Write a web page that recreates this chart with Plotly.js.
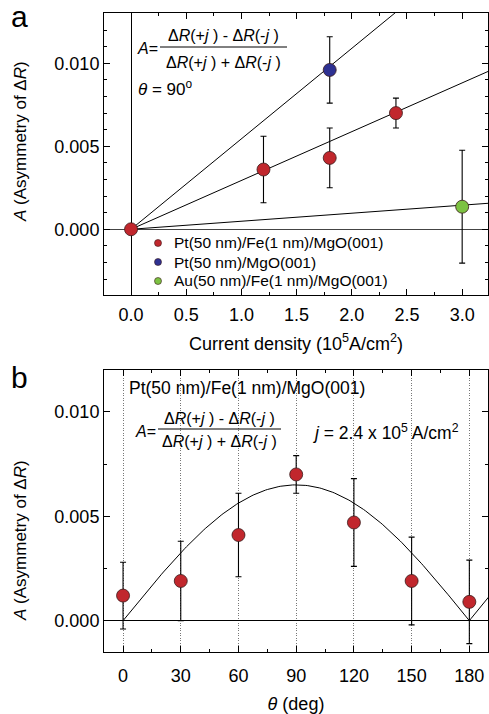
<!DOCTYPE html>
<html><head><meta charset="utf-8">
<script src="https://cdn.plot.ly/plotly-3.0.1.min.js"></script>
<style>html,body{margin:0;padding:0;background:#fff}#chart{width:489px;height:714px}</style>
</head><body><div id="chart"></div>
<script>
// ---- Panel a data ----
const seriesNames = ['Pt(50 nm)/Fe(1 nm)/MgO(001)', 'Pt(50 nm)/MgO(001)', 'Au(50 nm)/Fe(1 nm)/MgO(001)'];
const seriesColors = ['#c1272d', '#2e3192', '#7cc242'];
const ptFeJ = [0, 1.2, 1.8, 2.4];
const ptFeA = [0, 0.0036, 0.0043, 0.0070];
const ptFeErr = [0, 0.0020, 0.0018, 0.0009];
const ptJ = [1.8];
const ptA = [0.0096];
const ptErr = [0.0020];
const auFeJ = [3.0];
const auFeA = [0.00136];
const auFeErr = [0.0034];
const fitSlopes = [0.00294, 0.00545, 0.000484];
const fitJEnds = [0, 3.4];
const xTicksA = [0, 0.5, 1.0, 1.5, 2.0, 2.5, 3.0];
const yTicksA = [0, 0.005, 0.010];
// ---- Panel b data ----
const thetaDeg = [0, 30, 60, 90, 120, 150, 180];
const angA = [0.0012, 0.0019, 0.0041, 0.0070, 0.0047, 0.0019, 0.0009];
const angErr = [0.0016, 0.0019, 0.0020, 0.0009, 0.0021, 0.0021, 0.0020];
const fitAmp = 0.0065;
const xTicksB = [0, 30, 60, 90, 120, 150, 180];
const yTicksB = [0, 0.005, 0.010];

const FONT = 'Liberation Sans, Arial, sans-serif';
const ML = 104, MR = 1, MT = 13, MB = 62, W = 489, H = 714;
const PW = W - ML - MR, PH = H - MT - MB;
const PX = x => (x - ML) / PW;
const PY = y => (H - MB - y) / PH;

const traces = [];
fitSlopes.forEach(s => {
  traces.push({type:'scatter', mode:'lines', x: fitJEnds, y: fitJEnds.map(j => s*j),
    xaxis:'x', yaxis:'y', line:{color:'#000', width:1}, showlegend:false, hoverinfo:'skip'});
});
const errStyle = {type:'data', visible:true, color:'#000', thickness:1.1, width:3};
const mk = c => ({size:13, color:c, line:{color:'#3a1a1a', width:0.8}});
traces.push({type:'scatter', mode:'markers', name:seriesNames[0], x: ptFeJ, y: ptFeA, error_y:Object.assign({array: ptFeErr}, errStyle),
  marker: mk(seriesColors[0]), xaxis:'x', yaxis:'y', showlegend:false});
traces.push({type:'scatter', mode:'markers', name:seriesNames[1], x: ptJ, y: ptA, error_y:Object.assign({array: ptErr}, errStyle),
  marker: mk(seriesColors[1]), xaxis:'x', yaxis:'y', showlegend:false});
traces.push({type:'scatter', mode:'markers', name:seriesNames[2], x: auFeJ, y: auFeA, error_y:Object.assign({array: auFeErr}, errStyle),
  marker: mk(seriesColors[2]), xaxis:'x', yaxis:'y', showlegend:false});
const fitTheta = [];
for (let t = 0; t <= 190; t += 1) fitTheta.push(t);
traces.push({type:'scatter', mode:'lines', x: fitTheta, y: fitTheta.map(t => fitAmp*Math.abs(Math.sin(t*Math.PI/180))),
  xaxis:'x2', yaxis:'y2', line:{color:'#000', width:1}, showlegend:false, hoverinfo:'skip'});
traces.push({type:'scatter', mode:'markers', x: thetaDeg, y: angA, error_y:Object.assign({array: angErr}, errStyle),
  marker: mk(seriesColors[0]), xaxis:'x2', yaxis:'y2', showlegend:false});

const axBase = {showline:true, linecolor:'#000', linewidth:1, mirror:'allticks', ticks:'inside', ticklen:6,
  tickcolor:'#000', tickwidth:1, showgrid:false, zeroline:false, tickfont:{family:FONT, size:18, color:'#000'}};
const ax = o => Object.assign(JSON.parse(JSON.stringify(axBase)), o);

const annFont = {family:FONT, size:16, color:'#000'};
const ann = (text, x, y, xa, extra) => Object.assign({text, x:PX(x), y:PY(y), xref:'paper', yref:'paper',
  xanchor:xa, yanchor:'middle', showarrow:false, font:annFont}, extra||{});
const numTxt = '&#916;<i>R</i>(+<i>j</i> ) - &#916;<i>R</i>(-<i>j</i> )';
const denTxt = '&#916;<i>R</i>(+<i>j</i> ) + &#916;<i>R</i>(-<i>j</i> )';
const yTitle = '<i>A</i> (Asymmetry of &#916;<i>R</i>)';

// legend keys (glyphs) and texts
const legRows = [243, 262, 281];
const legShapes = legRows.map((y, i) => ({type:'circle', xref:'paper', yref:'paper',
  x0:PX(154.5), x1:PX(161.5), y0:PY(y+3.5), y1:PY(y-3.5), fillcolor:seriesColors[i], line:{color:'#3a1a1a', width:0.6}}));
const legAnns = legRows.map((y, i) => ann(seriesNames[i], 172, y, 'left', {font:{family:FONT, size:15.5, color:'#000'}}));

const layout = {
  width:W, height:H, margin:{l:ML, r:MR, t:MT, b:MB}, paper_bgcolor:'#fff', plot_bgcolor:'#fff',
  font:{family:FONT, color:'#000'}, showlegend:false,
  xaxis: ax({anchor:'y', range:[-0.245, 3.234], tickvals:xTicksA, tickformat:'.1f', ticklabelstandoff:3,
    minor:{dtick:0.25, tick0:0, ticks:'inside', ticklen:3, tickcolor:'#000'},
    zeroline:true, zerolinecolor:'#000', zerolinewidth:1,
    title:{text:'Current density (10<sup>5</sup>A/cm<sup>2</sup>)', font:{family:FONT, size:18, color:'#000'}, standoff:13}}),
  yaxis: ax({anchor:'x', domain:[PY(295), 1], range:[-0.00396, 0.01303], tickvals:yTicksA, tickformat:'.3f',
    minor:{dtick:0.001, tick0:0, ticks:'inside', ticklen:3, tickcolor:'#000'},
    zeroline:true, zerolinecolor:'#444', zerolinewidth:1}),
  xaxis2: ax({anchor:'y2', range:[-9.9, 189.7], tickvals:xTicksB, ticklabelstandoff:7,
    minor:{dtick:15, tick0:0, ticks:'inside', ticklen:3, tickcolor:'#000'},
    showgrid:true, gridcolor:'#777', griddash:'1px,1.5px', gridwidth:1,
    title:{text:'<i>θ</i> (deg)', font:{family:FONT, size:18, color:'#000'}, standoff:12}}),
  yaxis2: ax({anchor:'x2', domain:[0, PY(370)], range:[-0.0015, 0.012], tickvals:yTicksB, tickformat:'.3f',
    minor:{dtick:0.0025, tick0:0, ticks:'inside', ticklen:3, tickcolor:'#000'},
    zeroline:true, zerolinecolor:'#000', zerolinewidth:1}),
  shapes:[
    {type:'line', xref:'paper', yref:'paper', x0:PX(160), x1:PX(287), y0:PY(47), y1:PY(47), line:{color:'#000', width:1}},
    {type:'line', xref:'paper', yref:'paper', x0:PX(158), x1:PX(281), y0:PY(429), y1:PY(429), line:{color:'#000', width:1}}
  ].concat(legShapes),
  annotations:[
    ann('a', 19, 17, 'center', {font:{family:FONT, size:30, color:'#000'}}),
    ann(yTitle, 20, 142, 'center', {textangle:-90, font:{family:FONT, size:17, color:'#000'}}),
    ann('<i>A</i>=', 160, 48, 'right'),
    ann(numTxt, 223, 35, 'center'),
    ann(denTxt, 223, 62, 'center'),
    ann('<i>θ</i> = 90<sup>o</sup>', 136, 88, 'left', {font:{family:FONT, size:17, color:'#000'}}),
    ann('b', 19, 377, 'center', {font:{family:FONT, size:30, color:'#000'}}),
    ann(yTitle, 20, 541, 'center', {textangle:-90, font:{family:FONT, size:17, color:'#000'}}),
    ann('Pt(50 nm)/Fe(1 nm)/MgO(001)', 127, 388, 'left', {font:{family:FONT, size:17.5, color:'#000'}}),
    ann('<i>A</i>=', 158, 431, 'right'),
    ann(numTxt, 219, 418, 'center'),
    ann(denTxt, 219, 442, 'center'),
    ann('<i>j</i> = 2.4 x 10<sup>5</sup> A/cm<sup>2</sup>', 311, 432, 'left', {font:{family:FONT, size:17.5, color:'#000'}})
  ].concat(legAnns)
};
Plotly.newPlot('chart', traces, layout, {staticPlot:true, displayModeBar:false});
</script></body></html>
